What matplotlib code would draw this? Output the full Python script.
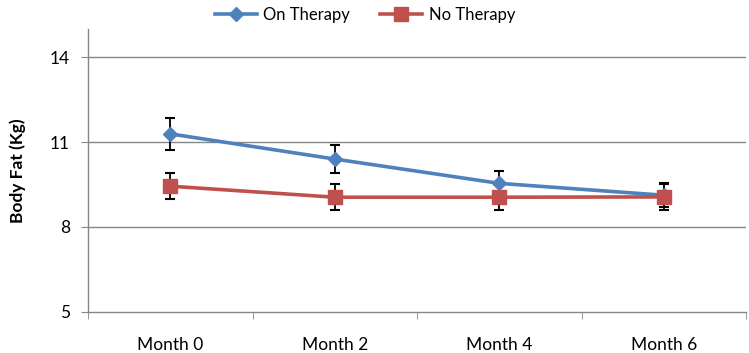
import matplotlib
matplotlib.use("Agg")
import matplotlib.pyplot as plt
import numpy as np

categories = ["Month 0", "Month 2", "Month 4", "Month 6"]
on_therapy = [11.29, 10.40, 9.54, 9.12]
on_therapy_err = [0.56, 0.51, 0.42, 0.42]
no_therapy = [9.44, 9.05, 9.05, 9.06]
no_therapy_err = [0.46, 0.45, 0.44, 0.45]
y_ticks = [5, 8, 11, 14]

plt.rcParams['font.family'] = ['Lato', 'DejaVu Sans']

fig = plt.figure(figsize=(7.49, 3.53), dpi=100)
ax = fig.add_axes([88/749, 1-311.7/353, (746-88)/749, (311.7-29)/353])

x = np.arange(len(categories))
blue = "#4F81BD"
red = "#C0504D"
grid_c = "#868686"

ax.errorbar(x, on_therapy, yerr=on_therapy_err, fmt='none', ecolor='black',
            elinewidth=1.3, capsize=3.5, capthick=1.5, zorder=2)
ax.errorbar(x, no_therapy, yerr=no_therapy_err, fmt='none', ecolor='black',
            elinewidth=1.3, capsize=3.5, capthick=1.5, zorder=2)
l1, = ax.plot(x, on_therapy, color=blue, lw=2.6, marker='D', markersize=7.5,
              label="On Therapy", zorder=3)
l2, = ax.plot(x, no_therapy, color=red, lw=2.6, marker='s', markersize=10,
              label="No Therapy", zorder=4)

ax.set_xlim(-0.5, len(categories) - 0.5)
ax.set_ylim(5, 15)
ax.set_yticks(y_ticks)
ax.set_yticklabels([str(v) for v in y_ticks])
for v in y_ticks[1:]:
    ax.axhline(v, color=grid_c, lw=1, zorder=1)

ax.set_xticks(x)
ax.set_xticklabels(categories)
ax.set_xticks(np.arange(-0.5, len(categories)), minor=True)
ax.tick_params(axis='x', which='major', length=0, pad=18, labelsize=12.5)
ax.tick_params(axis='x', which='minor', length=5, color=grid_c, direction='out')
ax.tick_params(axis='y', length=5, color=grid_c, pad=8, labelsize=12.5)

for s in ['top', 'right']:
    ax.spines[s].set_visible(False)
for s in ['left', 'bottom']:
    ax.spines[s].set_color(grid_c)
    ax.spines[s].set_linewidth(1)

ax.set_ylabel("Body Fat (Kg)", fontsize=12.5, fontweight='bold')
ax.yaxis.set_label_coords((26-88)/658, 0.5)

fig.legend(handles=[l1, l2], loc='center', bbox_to_anchor=(365/749, 1-15/353),
           ncol=2, frameon=False, fontsize=12, handlelength=2.5,
           columnspacing=1.8, handletextpad=0.4)

fig.savefig("out.png", dpi=100)
